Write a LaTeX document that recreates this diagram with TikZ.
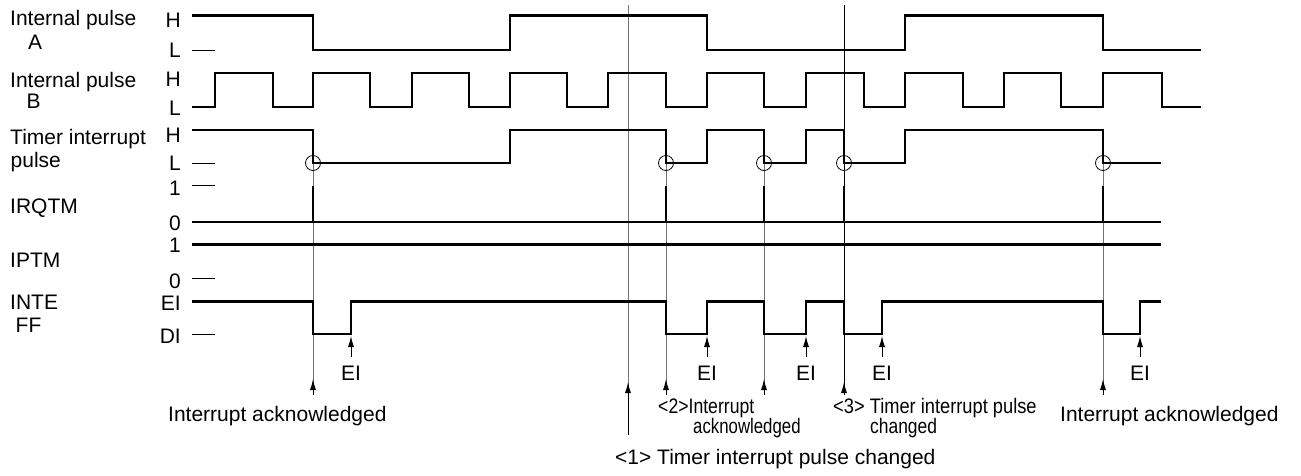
\documentclass[tikz,border=0pt]{standalone}
\usepackage{fontspec}
\setmainfont{Liberation Sans}
\usetikzlibrary{arrows.meta}
\begin{document}
\begin{tikzpicture}[x=1pt,y=-1pt,
  wave/.style={line width=2.5pt, line join=miter},
  thinln/.style={line width=0.9pt, black!55},
  tickln/.style={line width=0.9pt},
  lbl/.style={inner sep=0pt, anchor=base west, font=\fontsize{21}{24}\selectfont},
  lvl/.style={inner sep=0pt, anchor=base east, font=\fontsize{21}{24}\selectfont},
  eilbl/.style={inner sep=0pt, anchor=base, font=\fontsize{21}{24}\selectfont},
  uparrow/.style={-{Latex[length=11pt,width=6pt]}, line width=0.9pt},
  ring/.style={draw, circle, line width=0.8pt, minimum size=15pt, inner sep=0pt}
]
\useasboundingbox (0,0) rectangle (1301,475);

% ---- left labels ----
\node[lbl] (nA1) at (10,25.5) {Internal pulse};
\node[lbl] (nA2) at (28,49) {A};
\node[lbl] (nB1) at (10,87) {Internal pulse};
\node[lbl] (nB2) at (26.5,108) {B};
\node[lbl] (nT1) at (10,144) {Timer interrupt};
\node[lbl] (nT2) at (10.5,167) {pulse};
\node[lbl] (nIRQ) at (10,213) {IRQTM};
\node[lbl] (nIPT) at (10,267) {IPTM};
\node[lbl] (nINT) at (10,309) {INTE};
\node[lbl] (nFF) at (15.5,332) {FF};

% ---- level labels ----
\node[lvl] (hA) at (181,27) {H};
\node[lvl] (lA) at (181,57) {L};
\node[lvl] (hB) at (181,86) {H};
\node[lvl] (lB) at (181,115) {L};
\node[lvl] (hT) at (181,142) {H};
\node[lvl] (lT) at (181,170) {L};
\node[lvl] (oneR) at (181,195) {1};
\node[lvl] (zeroR) at (181,230) {0};
\node[lvl] (oneP) at (181,252) {1};
\node[lvl] (zeroP) at (181,288) {0};
\node[lvl] (eiF) at (181,310) {EI};
\node[lvl] (diF) at (181,343) {DI};

% ---- level ticks ----
\draw[tickln] (192,50) -- (215,50);
\draw[tickln] (192,163) -- (215,163);
\draw[tickln] (192,185) -- (215,185);
\draw[tickln] (192,278) -- (215,278);
\draw[tickln] (192,334) -- (215,334);

% ---- thin vertical reference lines ----
\coordinate (m1top) at (628,5);
\coordinate (m1bot) at (628,435);
\coordinate (m1tip) at (628,382);
\coordinate (m3top) at (844,5);
\coordinate (m3bot) at (844,395);
\coordinate (m3tip) at (844,382);
\draw[thinln] (m1top) -- (m1bot);
\draw[line width=0.8pt] (m3top) -- (m3bot);
\draw[uparrow] (m1bot) -- (m1tip);
\draw[uparrow] (m3bot) -- (m3tip);

\foreach \i/\x in {1/313,2/666,3/764,4/1103}{
  \coordinate (ackc\i) at (\x,163);
  \coordinate (ackb\i) at (\x,395);
  \coordinate (ackt\i) at (\x,379);
  \draw[thinln] (ackc\i) -- (ackb\i);
  \draw[uparrow] (ackb\i) -- (ackt\i);
}

% ---- circles ----
\foreach \i/\x in {1/313,2/666,3/764,4/844,5/1103}{
  \node[ring] (c\i) at (\x,163) {};
}

% ---- waveforms ----
\draw[wave] (192,15.5) -| (313,50) -| (510,15.5) -| (707,50) -| (905,15.5) -| (1103,50) -- (1201,50);
\draw[wave] (192,107) -| (215,73) -| (273,107) -| (313,73) -| (370,107) -| (412,73) -| (469,107) -| (510,73) -| (567,107) -| (608,73) -| (666,107) -| (707,73) -| (764,107) -| (806,73) -| (864,107) -| (905,73) -| (963,107) -| (1004,73) -| (1061,107) -| (1103,73) -| (1162,107) -- (1201,107);
\draw[wave] (192,130) -| (313,163) -| (510,130) -| (666,163) -| (707,130) -| (764,163) -| (806,130) -| (844,163) -| (905,130) -| (1103,163) -- (1161,163);
\draw[wave] (192,222) -- (1161,222);
\foreach \x in {313,666,764,844,1103}{
  \draw[wave] (\x,186) -- (\x,222);
}
\draw[wave] (192,244.5) -- (1161,244.5);
\draw[wave] (192,301.5) -| (313,334) -| (351,301.5) -| (666,334) -| (707,301.5) -| (764,334) -| (806,301.5) -| (844,334) -| (882,301.5) -| (1103,334) -| (1140,301.5) -- (1161,301.5);

% ---- EI arrows and labels ----
\foreach \i/\x in {1/351,2/707,3/806,4/882,5/1140}{
  \coordinate (eib\i) at (\x,357);
  \coordinate (eit\i) at (\x,336);
  \draw[uparrow] (eib\i) -- (eit\i);
  \node[eilbl] (ei\i) at (\x,380.5) {EI};
}

% ---- bottom captions ----
\node[lbl] (ackA) at (168,421) {Interrupt acknowledged};
\node[lbl] (ackB) at (1060,421) {Interrupt acknowledged};
\node[lbl] (c2a) at (658,413) {\scalebox{0.84}[1]{<2>Interrupt}};
\node[lbl] (c2b) at (693,433) {\scalebox{0.8}[1]{acknowledged}};
\node[lbl] (c3a) at (833,413) {\scalebox{0.87}[1]{<3> Timer interrupt pulse}};
\node[lbl] (c3b) at (870,433) {\scalebox{0.83}[1]{changed}};
\node[lbl] (c1) at (615,464) {<1> Timer interrupt pulse changed};
\end{tikzpicture}
\end{document}
